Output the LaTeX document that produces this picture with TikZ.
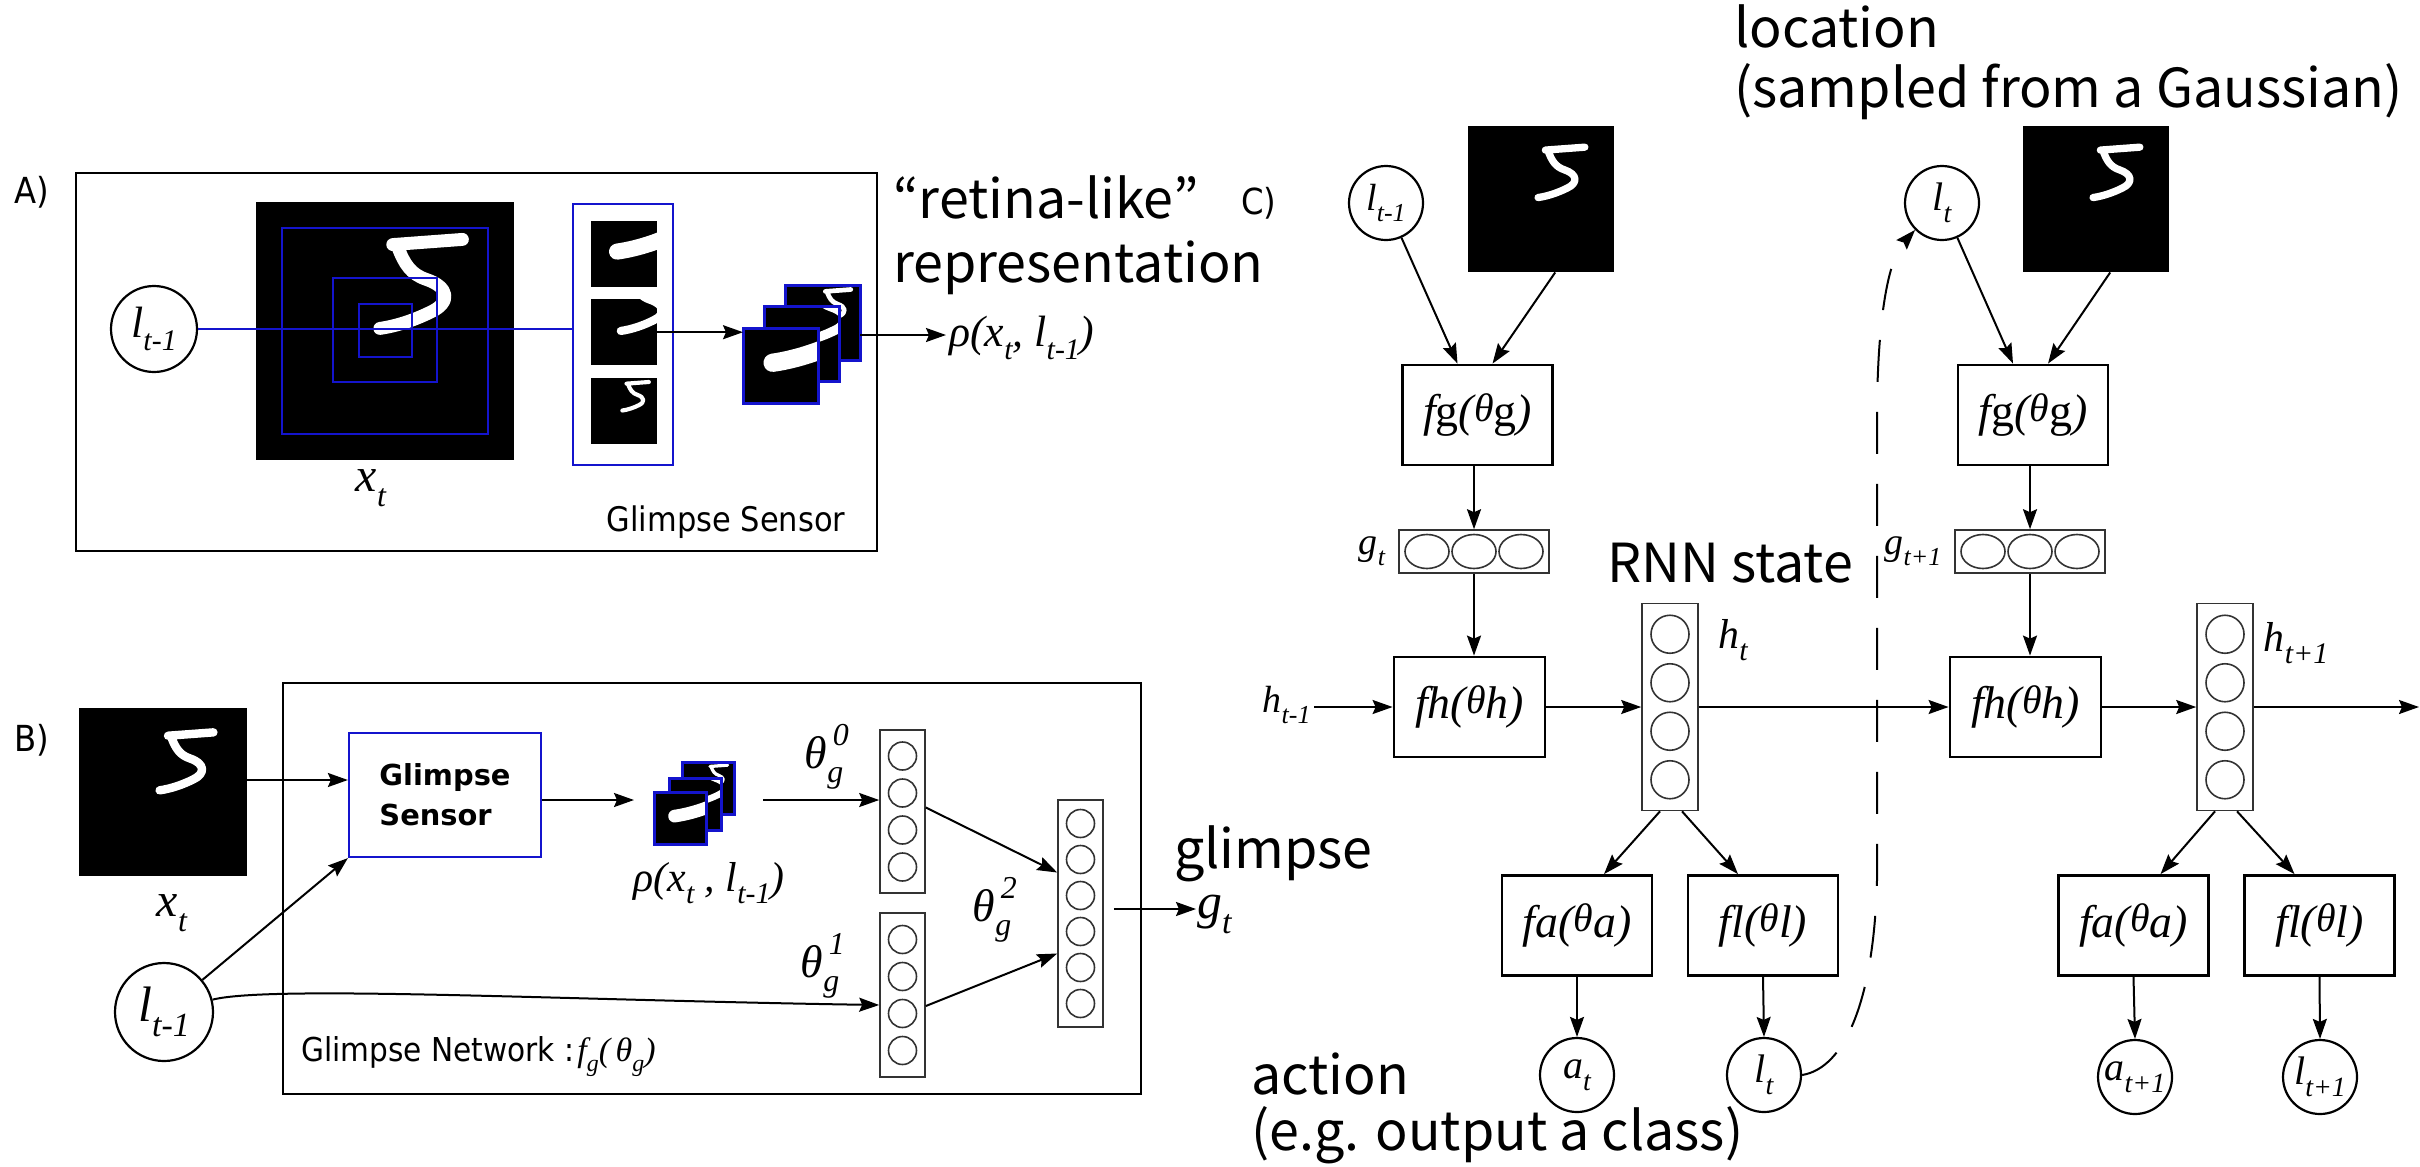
\documentclass[tikz,border=0pt]{standalone}
\usepackage{fontspec}
\setmainfont{Liberation Serif}
\newfontfamily\tms{Liberation Serif}
\newfontfamily\dvs[FakeStretch=0.9]{DejaVu Sans}
\newfontfamily\dvsb{DejaVu Sans}
\newfontfamily\cjk{Noto Sans CJK JP}
\usetikzlibrary{arrows.meta,calc,shapes.geometric}
\definecolor{gblue}{RGB}{20,20,205}
\newcommand{\fsz}[1]{\fontsize{#1}{#1}\selectfont}
\newcommand{\mv}[1]{{\tms\itshape #1}}
\newcommand{\lo}[2]{\raisebox{-0.3em}{\fsz{#1}\tms\itshape #2}}
\newcommand{\hi}[2]{\raisebox{0.5em}{\fsz{#1}\tms\itshape #2}}
\newcommand{\fun}[2]{\mv{f}#1\mv{(}\raisebox{0.12em}{\fsz{40}\tms\itshape θ}#2\mv{)}}
\newcommand{\digitfive}[4]{%
  \begin{scope}[shift={(#1,#2)},scale=#3]
    \draw[white,line width=#4,line cap=round,line join=round]
      (0.53,0.165) -- (0.80,0.145)
      (0.55,0.175) .. controls (0.575,0.24) and (0.60,0.28) .. (0.66,0.30)
      .. controls (0.75,0.33) and (0.755,0.39) .. (0.68,0.425)
      .. controls (0.62,0.455) and (0.55,0.48) .. (0.48,0.49);
  \end{scope}}
\newcommand{\cropimg}[7]{%
  \node[fill=black,inner sep=0pt,minimum size=#4bp,anchor=north west] (#1) at (#2,#3) {};
  \pgfmathsetmacro{\dgx}{#2-#5/#7*#4}%
  \pgfmathsetmacro{\dgy}{#3-#6/#7*#4}%
  \pgfmathsetmacro{\dgs}{#4/#7}%
  \pgfmathsetmacro{\dgw}{0.05*#4/#7}%
  \begin{scope}
    \clip (#2,#3) rectangle ++(#4,#4);
    \digitfive{\dgx}{\dgy}{\dgs}{\dgw bp}
  \end{scope}}
\newcommand{\bframe}[1]{\draw[gblue,line width=3bp] (#1.north west) rectangle (#1.south east);}
\tikzset{
  arr/.style={-{Stealth[length=20bp,width=14bp,inset=3bp]},line width=2bp},
  fbox/.style={draw,line width=2.8bp,inner sep=0pt,minimum width=150bp,minimum height=100bp},
  vbox/.style={draw=black!80,line width=1.6bp,inner sep=0pt},
  neur/.style={draw=black!80,line width=1.6bp,circle,inner sep=0pt,minimum size=28bp},
  hneur/.style={draw=black!80,line width=1.6bp,circle,inner sep=0pt,minimum size=38bp},
  gneur/.style={draw=black!80,line width=1.6bp,ellipse,inner sep=0pt,minimum width=44bp,minimum height=34bp},
  var/.style={draw,circle,line width=2.2bp,inner sep=0pt},
  bsq/.style={draw=gblue,line width=2.2bp,inner sep=0pt},
  panel/.style={draw,line width=2.4bp,inner sep=0pt,anchor=north west},
  plab/.style={font=\dvs\fsz{36},inner sep=0pt},
  note/.style={font=\cjk\fsz{54},inner sep=0pt,anchor=base west}
}
\begin{document}
\begin{tikzpicture}[x=1bp,y=-1bp]
\fill[white] (0,0) rectangle (2420,1166);
\useasboundingbox (0,0) rectangle (2420,1166);

% ---------------- A ----------------
\node[plab] (labA) at (32,192) {A)};
\node[panel,minimum width=801bp,minimum height=378bp] (boxA) at (75,172) {};
\node[var,minimum size=86bp] (lA) at (154,329) {\fsz{44}\mv{l}\lo{30}{t-1}};
\cropimg{imgA}{256}{202}{258}{0}{0}{1}
\node[bsq,minimum size=206bp] (sqA1) at (385,331) {};
\node[bsq,minimum size=104bp] (sqA2) at (385,330) {};
\node[bsq,minimum size=53bp] (sqA3) at (385.5,330.5) {};
\node[bsq,minimum width=100bp,minimum height=261bp] (gsA) at (623,334.5) {};
\cropimg{crA1}{591}{221}{66}{0.399}{0.395}{0.205}
\cropimg{crA2}{591}{299}{66}{0.298}{0.295}{0.403}
\cropimg{crA3}{591}{378}{66}{0.1008}{0.0969}{0.798}
\draw[gblue,line width=2.2bp] (lA) -- (lA -| gsA.west);
\cropimg{stA3}{785}{285}{75}{0.1008}{0.0969}{0.798}\bframe{stA3}
\cropimg{stA2}{764}{306}{75}{0.298}{0.295}{0.403}\bframe{stA2}
\cropimg{stA1}{743}{328}{75}{0.399}{0.395}{0.205}\bframe{stA1}
\draw[arr] (crA2.east) -- (crA2.east -| stA1.west);
\node[anchor=west,inner sep=3bp] (rhoA) at (946,338) {\fsz{44}\mv{ρ(x}\lo{30}{t}\mv{, l}\lo{30}{t-1}\mv{)}};
\coordinate (yA) at (0,335);
\draw[arr] (stA3.east |- yA) -- (rhoA.west |- yA);
\node (xtA) at (371,488) {\fsz{48}\mv{x}\lo{32}{t}};
\node[font=\dvs\fsz{34},inner sep=0pt] (gsAl) at (726,522) {Glimpse Sensor};
\node[note] (ret) at (893,218) {“retina-like”};
\node[note] (rep) at (893,282) {representation};

% ---------------- B ----------------
\node[plab] (labB) at (32,740) {B)};
\cropimg{imgB}{79}{708}{168}{0}{0}{1}
\node (xtB) at (172,913) {\fsz{48}\mv{x}\lo{32}{t}};
\node[panel,minimum width=858bp,minimum height=411bp] (boxB) at (282,682) {};
\node[bsq,minimum width=192bp,minimum height=124bp,align=left,font=\dvsb\bfseries\fontsize{29}{40}\selectfont] (gsB) at (445,795) {Glimpse\\Sensor};
\cropimg{stB3}{682}{762}{52}{0.1008}{0.0969}{0.798}\bframe{stB3}
\cropimg{stB2}{669}{778}{52}{0.298}{0.295}{0.403}\bframe{stB2}
\cropimg{stB1}{654}{792}{52}{0.399}{0.395}{0.205}\bframe{stB1}
\node (rhoB) at (709,883) {\fsz{42}\mv{ρ(x}\lo{30}{t}\mv{ , l}\lo{30}{t-1}\mv{)}};
\node[var,minimum size=98bp] (lB) at (164,1012) {\fsz{50}\mv{l}\lo{34}{t-1}};
\node[vbox,minimum width=45bp,minimum height=163bp] (v0) at (902.5,811.5) {};
\foreach \i/\yy in {1/756,2/793,3/830,4/867} \node[neur] (v0n\i) at (902.5,\yy) {};
\node[vbox,minimum width=45bp,minimum height=164bp] (v1) at (902.5,995) {};
\foreach \i/\yy in {1/939.5,2/976.5,3/1013.5,4/1050.5} \node[neur] (v1n\i) at (902.5,\yy) {};
\node[vbox,minimum width=45bp,minimum height=227bp] (v2) at (1080.5,913.5) {};
\foreach \i/\yy in {1/823.5,2/859.5,3/895.5,4/931.5,5/967.5,6/1003.5} \node[neur] (v2n\i) at (1080.5,\yy) {};
\coordinate (yB1) at (0,780);
\coordinate (yB2) at (0,800);
\coordinate (yB3) at (0,909);
\draw[arr] (imgB.east |- yB1) -- (gsB.west |- yB1);
\draw[arr] (gsB.east |- yB2) -- ($(stB1.west |- yB2)+(-20,0)$);
\draw[arr] ($(stB3.east |- yB2)+(29,0)$) -- (v0.west |- yB2);
\draw[arr] (lB) -- (gsB.south west);
\draw[arr] (lB) .. controls (270,985) and (560,1000) .. ($(v1.west)+(0,10)$);
\draw[arr] ($(v0.east)+(0,-4)$) -- ($(v2.west)+(0,-41)$);
\draw[arr] ($(v1.east)+(0,11)$) -- ($(v2.west)+(0,40)$);
\node (t0) at (824,757) {\fsz{46}\mv{θ}\makebox[0pt][l]{\hspace{0.12em}\hi{32}{0}}\lo{32}{g}};
\node (t1) at (820,966) {\fsz{46}\mv{θ}\makebox[0pt][l]{\hspace{0.12em}\hi{32}{1}}\lo{32}{g}};
\node (t2) at (992,910) {\fsz{46}\mv{θ}\makebox[0pt][l]{\hspace{0.12em}\hi{32}{2}}\lo{32}{g}};
\node[anchor=base west,inner sep=0pt] (gnet) at (301,1061) {{\dvs\fsz{33}Glimpse Network :} \fsz{34}\mv{f}\lo{24}{g}\mv{(\,θ}\lo{24}{g}\mv{)}};
\node[anchor=west,inner sep=1bp] (gtB) at (1196,914) {\fsz{50}\mv{g}\lo{34}{t}};
\draw[arr] ($(v2.east |- yB3)+(10,0)$) -- (gtB.west |- yB3);
\node[note] (glim) at (1174,868) {glimpse};

% ---------------- C, step t ----------------
\node[plab] (labC) at (1259,203) {C)};
\node[var,minimum size=74bp] (lC1) at (1386,203) {\fsz{38}\mv{l}\lo{26}{t-1}};
\cropimg{imgC1}{1468}{126}{146}{0}{0}{1}
\node[fbox] (fgC1) at (1477.5,415) {\fsz{46}\fun{{\tms g}}{{\tms g}}};
\node[vbox,minimum width=150bp,minimum height=43bp] (gC1) at (1474,551.5) {};
\foreach \i/\xx in {1/1427,2/1474,3/1521} \node[gneur] (gC1n\i) at (\xx,551.5) {};
\node (gtC1) at (1372,551) {\fsz{38}\mv{g}\lo{26}{t}};
\node[fbox,minimum width=151bp] (fhC1) at (1469.5,707) {\fsz{46}\fun{\mv{h}}{\mv{h}}};
\node[vbox,minimum width=56bp,minimum height=207bp] (hC1) at (1670,707) {};
\foreach \i/\yy in {1/634.25,2/682.75,3/731.25,4/779.75} \node[hneur] (hC1n\i) at (1670,\yy) {};
\node (htC1) at (1733,640) {\fsz{42}\mv{h}\lo{30}{t}};
\node[anchor=base east] (hprev) at (1314,712) {\fsz{38}\mv{h}\lo{26}{t-1}};
\node[fbox] (faC1) at (1577,925.5) {\fsz{46}\fun{\mv{a}}{\mv{a}}};
\node[fbox] (flC1) at (1763,925.5) {\fsz{46}\fun{\mv{l}}{\mv{l}}};
\node[var,minimum size=74bp] (aC1) at (1577,1075) {\fsz{40}\mv{a}\lo{28}{t}};
\node[var,minimum size=74bp] (lC1b) at (1764,1075) {\fsz{40}\mv{l}\lo{28}{t}};
\node[note] (rnn) at (1607,582) {RNN state};
\node[note] (act1) at (1251,1094) {action};
\node[note] (act2) at (1251,1150) {(e.g. output a class)};

% ---------------- C, step t+1 ----------------
\node[var,minimum size=74bp] (lC2) at (1942,203) {\fsz{40}\mv{l}\lo{28}{t}};
\cropimg{imgC2}{2023}{126}{146}{0}{0}{1}
\node[fbox] (fgC2) at (2033,415) {\fsz{46}\fun{{\tms g}}{{\tms g}}};
\node[vbox,minimum width=150bp,minimum height=43bp] (gC2) at (2030,551.5) {};
\foreach \i/\xx in {1/1983,2/2030,3/2077} \node[gneur] (gC2n\i) at (\xx,551.5) {};
\node (gtC2) at (1913,551) {\fsz{38}\mv{g}\lo{26}{t+1}};
\node[fbox,minimum width=151bp] (fhC2) at (2025.5,707) {\fsz{46}\fun{\mv{h}}{\mv{h}}};
\node[vbox,minimum width=56bp,minimum height=207bp] (hC2) at (2225,707) {};
\foreach \i/\yy in {1/634.25,2/682.75,3/731.25,4/779.75} \node[hneur] (hC2n\i) at (2225,\yy) {};
\node (htC2) at (2296,643) {\fsz{42}\mv{h}\lo{30}{t+1}};
\node[fbox] (faC2) at (2133.5,925.5) {\fsz{46}\fun{\mv{a}}{\mv{a}}};
\node[fbox] (flC2) at (2319.5,925.5) {\fsz{46}\fun{\mv{l}}{\mv{l}}};
\node[var,minimum size=74bp] (aC2) at (2135,1077) {\fsz{40}\mv{a}\lo{28}{t+1}};
\node[var,minimum size=74bp] (lC2b) at (2320,1077) {\fsz{40}\mv{l}\lo{28}{t+1}};
\node[note] (loc1) at (1734,47) {location};
\node[note] (loc2) at (1734,107) {(sampled from a Gaussian)};
\coordinate (outR) at (2419,707);

% connectors C
\draw[arr] (lC1) -- ($(fgC1.north)+(-20,0)$);
\draw[arr] ($(imgC1.south)+(14,0)$) -- ($(fgC1.north)+(15,0)$);
\draw[arr] (fgC1.south -| gC1.north) -- (gC1.north);
\draw[arr] (gC1.south) -- (gC1.south |- fhC1.north);
\draw[arr] (hprev.east |- fhC1.west) -- (fhC1.west);
\draw[arr] (fhC1.east) -- (hC1.west |- fhC1.east);
\draw[arr] (hC1.east |- fhC1.east) -- (fhC2.west);
\draw[arr] ($(hC1.south)+(-10,0)$) -- ($(faC1.north)+(27,0)$);
\draw[arr] ($(hC1.south)+(12,0)$) -- ($(flC1.north)+(-25,0)$);
\draw[arr] (faC1.south) -- (aC1.north);
\draw[arr] (flC1.south) -- (lC1b.north);
\draw[arr] (lC2) -- ($(fgC2.north)+(-20,0)$);
\draw[arr] ($(imgC2.south)+(14,0)$) -- ($(fgC2.north)+(15,0)$);
\draw[arr] (fgC2.south -| gC2.north) -- (gC2.north);
\draw[arr] (gC2.south) -- (gC2.south |- fhC2.north);
\draw[arr] (fhC2.east) -- (hC2.west |- fhC2.east);
\draw[arr] (hC2.east |- fhC2.east) -- (outR);
\draw[arr] ($(hC2.south)+(-10,0)$) -- ($(faC2.north)+(27,0)$);
\draw[arr] ($(hC2.south)+(12,0)$) -- ($(flC2.north)+(-25,0)$);
\draw[arr] (faC2.south) -- (aC2.north);
\draw[arr] (flC2.south) -- (lC2b.north);
\draw[arr,dash pattern=on 42bp off 30bp] (lC1b.east) .. controls (1845,1068) and (1874,1000) .. (1877,880) -- (1877,420) .. controls (1877,330) and (1886,262) .. (lC2.south west);
\end{tikzpicture}
\end{document}
